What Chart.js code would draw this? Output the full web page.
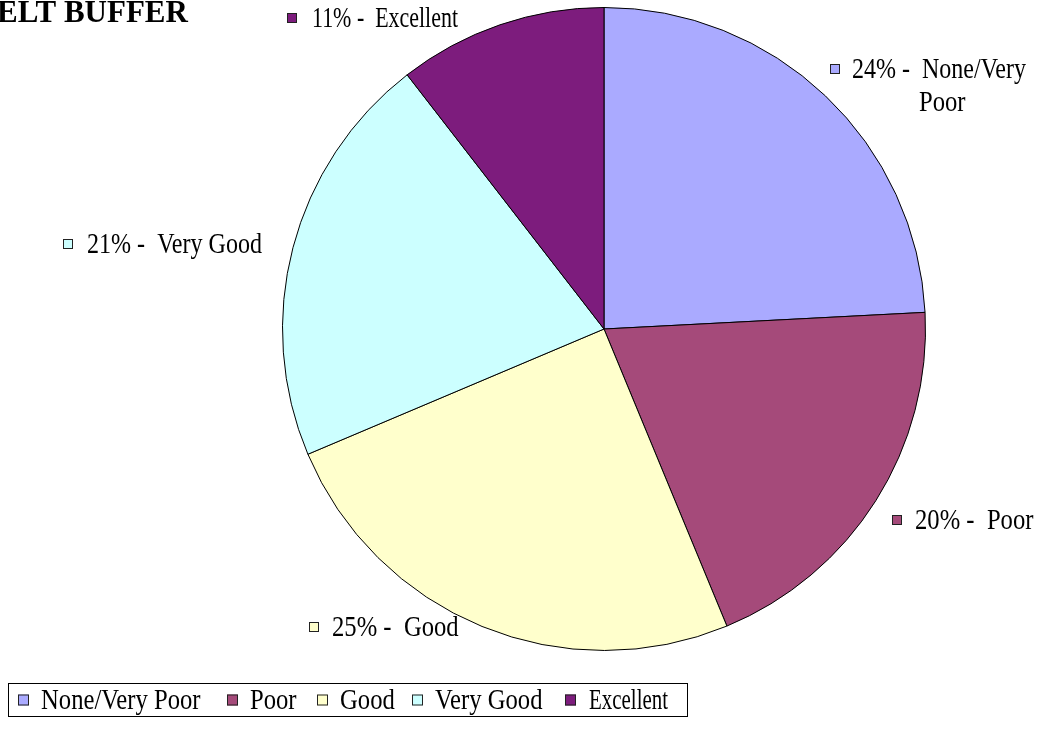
<!DOCTYPE html>
<html>
<head>
<meta charset="utf-8">
<script src="https://cdn.jsdelivr.net/npm/chart.js@4.4.0/dist/chart.umd.min.js"></script>
<style>
  body { margin: 0; background: #fff; }
  #wrap { width: 1047px; height: 738px; position: relative; }
</style>
</head>
<body>
<div id="wrap"><canvas id="pie" width="1047" height="738"></canvas></div>
<script>
// Datos del gráfico
const categories = ['None/Very Poor', 'Poor', 'Good', 'Very Good', 'Excellent'];
const shares = [24.2, 19.6, 24.9, 20.9, 10.5];
const sliceColors = ['#AAAAFF', '#A54A7A', '#FFFFCC', '#CCFFFF', '#7D1C7D'];
const titleText = 'ELT BUFFER';

// Posición de cada etiqueta (swatch x, texto x, centro y)
const labelSpots = [
    { sx: 830, tx: 852, y: 69, split: true, line2x: 919, maxW: 174 },
    { sx: 892, tx: 915, y: 520 },
    { sx: 309, tx: 332, y: 627 },
    { sx: 63, tx: 87, y: 244, maxW: 175 },
    { sx: 287, tx: 312, y: 18, maxW: 146 }
];
const legendSpots = [
    { sx: 18, tx: 41 },
    { sx: 227, tx: 250 },
    { sx: 317, tx: 340 },
    { sx: 412, tx: 435 },
    { sx: 565, tx: 589, maxW: 79 }
];

const FONT = '"Liberation Serif", "Times New Roman", serif';
const FSIZE = 29;
const SQUEEZE = 0.85;

function drawText(ctx, str, x, yMid, maxW) {
    ctx.save();
    ctx.translate(x, yMid);
    ctx.scale(SQUEEZE, 1);
    ctx.font = FSIZE + 'px ' + FONT;
    ctx.fillStyle = '#000';
    ctx.textAlign = 'left';
    ctx.textBaseline = 'middle';
    if (maxW) ctx.fillText(str, 0, 1, maxW / SQUEEZE);
    else ctx.fillText(str, 0, 1);
    ctx.restore();
}

function drawSwatch(ctx, x, yMid, color, size) {
    ctx.fillStyle = color;
    ctx.fillRect(x, yMid - size / 2, size, size);
    ctx.strokeStyle = '#222';
    ctx.lineWidth = 1;
    ctx.strokeRect(x + 0.5, yMid - size / 2 + 0.5, size - 1, size - 1);
}

const extrasPlugin = {
    id: 'extras',
    afterDraw(chart) {
        const ctx = chart.ctx;

        // Título (cortado a la izquierda)
        ctx.save();
        ctx.font = 'bold 31px ' + FONT;
        ctx.fillStyle = '#000';
        ctx.textAlign = 'left';
        ctx.textBaseline = 'alphabetic';
        ctx.fillText(titleText, -3, 22);
        ctx.restore();

        // Etiquetas de los sectores
        categories.forEach((cat, i) => {
            const spot = labelSpots[i];
            const head = Math.round(shares[i]) + '% -  ';
            drawSwatch(ctx, spot.sx, spot.y, sliceColors[i], 10);
            if (spot.split) {
                const parts = cat.split(' ');
                drawText(ctx, head + parts[0], spot.tx, spot.y, spot.maxW);
                drawText(ctx, parts.slice(1).join(' '), spot.line2x, spot.y + 33);
            } else {
                drawText(ctx, head + cat, spot.tx, spot.y, spot.maxW);
            }
        });

        // Leyenda
        ctx.save();
        ctx.strokeStyle = '#000';
        ctx.lineWidth = 1;
        ctx.strokeRect(8.5, 683.5, 679, 33);
        ctx.restore();
        categories.forEach((cat, i) => {
            drawSwatch(ctx, legendSpots[i].sx, 700, sliceColors[i], 11);
            drawText(ctx, cat, legendSpots[i].tx, 700, legendSpots[i].maxW);
        });
    }
};

new Chart(document.getElementById('pie'), {
    type: 'pie',
    data: {
        labels: categories,
        datasets: [{
            data: shares,
            backgroundColor: sliceColors,
            borderColor: '#000',
            borderWidth: 1
        }]
    },
    options: {
        responsive: false,
        animation: false,
        layout: { padding: { left: 282, right: 121, top: 7, bottom: 87 } },
        plugins: {
            legend: { display: false },
            tooltip: { enabled: false },
            title: { display: false }
        }
    },
    plugins: [extrasPlugin]
});
</script>
</body>
</html>
